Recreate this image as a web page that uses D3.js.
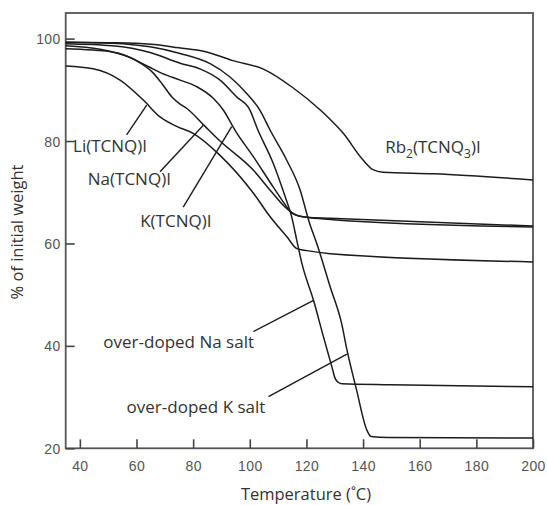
<!DOCTYPE html>
<html>
<head>
<meta charset="utf-8">
<script src="https://cdn.jsdelivr.net/npm/d3@7/dist/d3.min.js"></script>
<style>
  body { margin: 0; background: #fff; }
  svg text { font-family: "Open Sans", "DejaVu Sans", sans-serif; fill: #333; }
  .tick-label { font-family: "Liberation Sans", Arial, sans-serif; fill: #555; font-size: 14px; letter-spacing: 0.4px; }
</style>
</head>
<body>
<svg id="chart" width="547" height="505"></svg>
<script>
// Thermogravimetric traces: temperature (°C) vs. % of initial weight
const xTickValues = [40, 60, 80, 100, 120, 140, 160, 180, 200];
const yTickValues = [20, 40, 60, 80, 100];

const liTcnqI = [[35,94.65],[44.7,94.1],[54.2,91.9],[62.4,88.0],[68.3,84.7],[74.0,82.9],[80.0,81.5],
  [89.5,77.2],[101.3,69.8],[107.2,65.2],[113.1,61.3],[116.6,59.0],[120.2,58.6],[128.4,58.0],[200,56.4]];

const naTcnqI = [[35,98.0],[51.4,97.4],[59.6,95.8],[65.5,93.5],[69.0,91.2],[72.5,88.6],[75.4,87.2],
  [77.9,86.3],[83.6,83.2],[89.5,80.0],[101.3,74.3],[107.2,70.4],[113.1,66.8],[116.6,65.5],
  [120.2,65.1],[128.4,64.7],[200,63.2]];

const kTcnqI = [[35,98.6],[47.1,97.9],[57.3,96.4],[64.3,94.5],[69.0,93.2],[75.4,91.9],[81.3,90.6],
  [87.2,88.3],[90.7,86.0],[94.8,82.1],[101.3,76.9],[108.3,71.0],[113.1,67.1],[114.8,65.9],
  [117.8,65.3],[120.2,65.1],[128.4,64.9],[200,63.4]];

const rb2Tcnq3I = [[35,99.3],[50,99.2],[65,98.9],[75,98.2],[84,97.5],[94,95.7],[105,94.0],[115,90.5],
  [125,86.0],[133,81.5],[140,76.3],[143.5,74.4],[147,73.9],[165,73.6],[200,72.4]];

const overDopedNa = [[35,99.0],[51.4,98.6],[64.8,97.3],[75.4,95.2],[82.4,94.1],[89.5,91.9],[95.4,88.6],
  [100.1,86.0],[102.6,82.5],[108.3,75.6],[112.5,69.1],[114.8,65.2],[116.6,60.6],[118.4,56.1],
  [122.5,48.9],[126.0,41.8],[129.0,35.9],[130.1,33.7],[131.2,32.9],[132.6,32.6],[149.6,32.4],[200,32.0]];

const overDopedK = [[35,99.3],[51.4,99.1],[64.8,98.4],[75.4,97.1],[86,95.1],[93,92.5],[98.9,89.3],
  [103.6,86.0],[107.2,82.1],[113,76.3],[117.8,70.4],[120.8,64.5],[124,59.4],[128.4,51.5],
  [132.5,44.2],[134.2,39.5],[137.7,31.4],[141.3,23.6],[142.8,22.3],[149,22.1],[200,22.0]];

const seriesList = [liTcnqI, naTcnqI, kTcnqI, rb2Tcnq3I, overDopedNa, overDopedK];

// Callout labels: text anchor and leader line, in data units
const callouts = [
  { text: [["Li(TCNQ)I"]], at: [37.6, 77.9], from: [56.5, 81.2], to: [63.6, 87.0] },
  { text: [["Na(TCNQ)I"]], at: [42.8, 71.4], from: [68.3, 74.0], to: [83.6, 83.1] },
  { text: [["K(TCNQ)I"]], at: [61.3, 63.2], from: [76.5, 67.1], to: [93.6, 82.8] },
  { text: [["Rb"], ["2", "sub"], ["(TCNQ"], ["3", "sub"], [")I"]], at: [147.8, 77.6] },
  { text: [["over-doped Na salt"]], at: [48.3, 39.6], from: [101.3, 42.8], to: [122.5, 48.9] },
  { text: [["over-doped K salt"]], at: [56.5, 26.9], from: [106.6, 30.1], to: [134.3, 38.4] }
];

const svg = d3.select("#chart");
const plotLeft = 65.7, plotRight = 533, plotTop = 13, plotBottom = 448.3;

const x = d3.scaleLinear().domain([35, 200]).range([plotLeft, plotRight]);
const y = d3.scaleLinear().domain([20, 105]).range([plotBottom, plotTop]);

// Frame
svg.append("rect")
  .attr("x", plotLeft).attr("y", plotTop)
  .attr("width", plotRight - plotLeft).attr("height", plotBottom - plotTop)
  .attr("fill", "none").attr("stroke", "#555").attr("stroke-width", 1.8);

// Axes with inward ticks
const xAxis = svg.append("g").attr("transform", `translate(0,${plotBottom})`)
  .call(d3.axisBottom(x).tickValues(xTickValues).tickSizeInner(-9).tickSizeOuter(0).tickPadding(13));
xAxis.select(".domain").remove();
xAxis.selectAll(".tick line").attr("stroke", "#444").attr("stroke-width", 1.6);
xAxis.selectAll(".tick text").attr("class", "tick-label").attr("dy", "0.71em");

const yAxis = svg.append("g").attr("transform", `translate(${plotLeft},0)`)
  .call(d3.axisLeft(y).tickValues(yTickValues).tickSizeInner(-9).tickSizeOuter(0).tickPadding(5));
yAxis.select(".domain").remove();
yAxis.selectAll(".tick line").attr("stroke", "#444").attr("stroke-width", 1.6);
yAxis.selectAll(".tick text").attr("class", "tick-label").attr("dy", "0.36em");

// Curves
const line = d3.line().x(d => x(d[0])).y(d => y(d[1])).curve(d3.curveMonotoneX);
svg.append("g").selectAll("path").data(seriesList).join("path")
  .attr("d", line)
  .attr("fill", "none")
  .attr("stroke", "#1c1c1c")
  .attr("stroke-width", 1.5)
  .attr("stroke-linejoin", "round");

// Callouts
const cg = svg.append("g");
callouts.forEach(c => {
  if (c.from) {
    cg.append("line")
      .attr("x1", x(c.from[0])).attr("y1", y(c.from[1]))
      .attr("x2", x(c.to[0])).attr("y2", y(c.to[1]))
      .attr("stroke", "#1c1c1c").attr("stroke-width", 1.4);
  }
  const t = cg.append("text")
    .attr("x", x(c.at[0])).attr("y", y(c.at[1]))
    .attr("font-size", 17);
  let shifted = false;
  c.text.forEach(([s, kind]) => {
    const sp = t.append("tspan").text(s);
    if (kind === "sub") {
      sp.attr("font-size", 12).attr("dy", 5);
      shifted = true;
    } else if (shifted) {
      sp.attr("dy", -5);
      shifted = false;
    }
  });
});

// Axis titles
svg.append("text")
  .attr("x", 306).attr("y", 500)
  .attr("text-anchor", "middle")
  .attr("font-size", 16.5)
  .text("Temperature (˚C)");

svg.append("text")
  .attr("transform", "translate(23,232) rotate(-90)")
  .attr("text-anchor", "middle")
  .attr("font-size", 16.5)
  .text("% of initial weight");
</script>
</body>
</html>
